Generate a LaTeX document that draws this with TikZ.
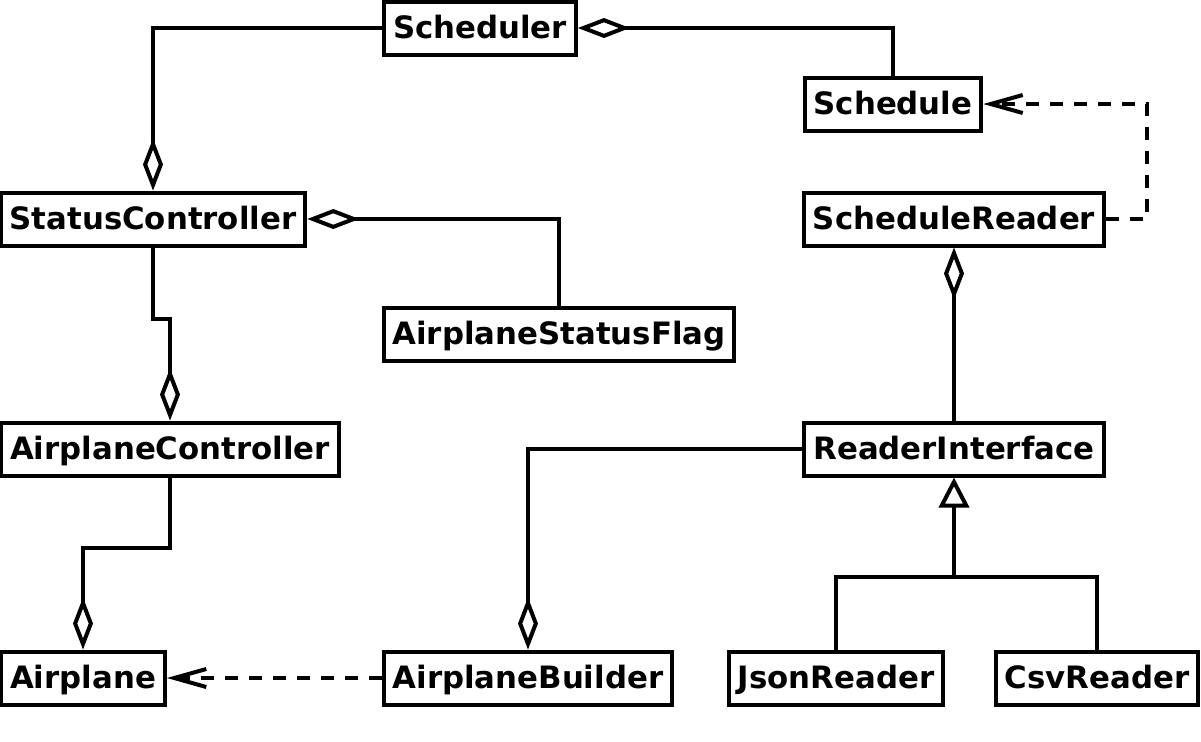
\documentclass[tikz,border=0pt]{standalone}
\usepackage{fontspec}
\setmainfont{DejaVu Sans}
\usetikzlibrary{arrows.meta}

\begin{document}
\begin{tikzpicture}[
  x=0.5pt, y=-0.5pt,
  cls/.style={draw, line width=2pt, fill=white, inner xsep=4.5pt, inner ysep=0pt,
    text height=12.5pt, text depth=2.5pt, minimum height=26.5pt,
    font=\fontsize{15.4}{18}\selectfont\bfseries},
  link/.style={line width=2pt},
  agg/.style={link, {Diamond[open, length=26pt, width=10pt]}-},
  dep/.style={link, dash pattern=on 6.5pt off 5.5pt, -{Straight Barb[length=16pt, width=9pt]}},
  inh/.style={link, {Triangle[open, length=15pt, width=15pt]}-}
]
  \useasboundingbox (0,0) rectangle (1201,741);
  % Classes
  \node[cls] (Scheduler) at (480,28) {Scheduler};
  \node[cls] (Schedule) at (893,104) {Schedule};
  \node[cls] (StatusController) at (153,219) {StatusController};
  \node[cls] (ScheduleReader) at (954,219) {ScheduleReader};
  \node[cls] (AirplaneStatusFlag) at (559,334) {AirplaneStatusFlag};
  \node[cls] (AirplaneController) at (170,449) {AirplaneController};
  \node[cls] (ReaderInterface) at (954,449) {ReaderInterface};
  \node[cls] (Airplane) at (83,678) {Airplane};
  \node[cls] (AirplaneBuilder) at (528,678) {AirplaneBuilder};
  \node[cls] (JsonReader) at (836,678) {JsonReader};
  \node[cls] (CsvReader) at (1097,678) {CsvReader};
  % Aggregations
  \draw[agg] (StatusController.north) |- (Scheduler.west);
  \draw[agg] (Scheduler.east) -| (Schedule.north);
  \draw[agg] (StatusController.east) -| (AirplaneStatusFlag.north);
  \draw[agg] (AirplaneController.north) -- ++(0,-102) -| (StatusController.south);
  \draw[agg] (Airplane.north) -- ++(0,-102) -| (AirplaneController.south);
  \draw[agg] (AirplaneBuilder.north) |- (ReaderInterface.west);
  \draw[agg] (ScheduleReader.south) -- (ReaderInterface.north);
  % Dependencies
  \draw[dep] (AirplaneBuilder.west) -- (Airplane.east);
  \draw[dep] (ScheduleReader.east) -- ++(41,0) |- (Schedule.east);
  % Realisation of the reader interface
  \coordinate (join) at ([yshift=-99*0.5pt]ReaderInterface.south);
  \draw[inh] (ReaderInterface.south) -- (join);
  \draw[link] (JsonReader.north) |- (join) -| (CsvReader.north);
\end{tikzpicture}
\end{document}
